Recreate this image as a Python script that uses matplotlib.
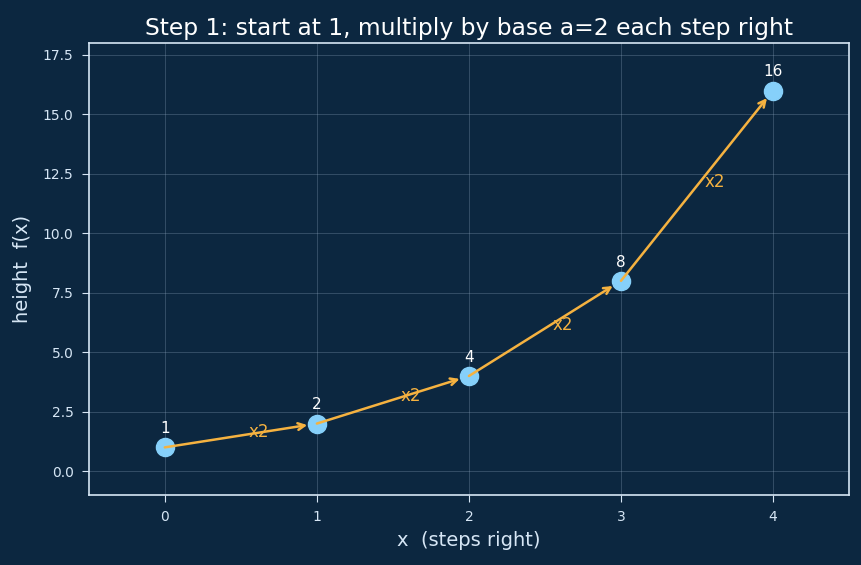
import matplotlib
matplotlib.use("Agg")
import matplotlib.pyplot as plt

xs = [0, 1, 2, 3, 4]
ys = [1, 2, 4, 8, 16]
point_labels = ["1", "2", "4", "8", "16"]
step_label = "x2"
title = "Step 1: start at 1, multiply by base a=2 each step right"

bg = "#0c2740"
fg = "#d6e6f5"
orange = "#f5b240"
blue = "#86d0fa"

fig, ax = plt.subplots(figsize=(8.62, 5.65), dpi=100)
fig.patch.set_facecolor(bg)
ax.set_facecolor(bg)
fig.subplots_adjust(left=0.103, right=0.985, top=0.924, bottom=0.124)

ax.scatter(xs, ys, s=170, color=blue, zorder=3)
for i in range(len(xs) - 1):
    ax.annotate("", xy=(xs[i + 1], ys[i + 1]), xytext=(xs[i], ys[i]),
                arrowprops=dict(arrowstyle="->", color=orange, lw=1.8,
                                shrinkA=0, shrinkB=7, mutation_scale=12),
                zorder=4)
    mx = (xs[i] + xs[i + 1]) / 2
    my = (ys[i] + ys[i + 1]) / 2
    ax.text(mx + 0.12, my + 0.15, step_label, color=orange, fontsize=12,
            ha="center", va="center", zorder=5)
for x, y, lab in zip(xs, ys, point_labels):
    ax.annotate(lab, (x, y), textcoords="offset points", xytext=(0, 8),
                ha="center", va="bottom", color="white", fontsize=11, zorder=5)

ax.set_xlim(-0.5, 4.5)
ax.set_ylim(-1, 18)
ax.set_xticks(xs)
ax.set_yticks([0, 2.5, 5, 7.5, 10, 12.5, 15, 17.5])
ax.grid(True, color="#8fa8c0", alpha=0.3, lw=0.7)
ax.set_axisbelow(True)
for s in ax.spines.values():
    s.set_color(fg)
    s.set_linewidth(1.2)
ax.tick_params(colors=fg, labelsize=10, length=5, pad=6)
ax.set_title(title, color="white", fontsize=16.8, pad=6)
ax.set_xlabel("x  (steps right)", color=fg, fontsize=14, labelpad=5)
ax.set_ylabel("height  f(x)", color=fg, fontsize=14, labelpad=8)

fig.savefig("out.png", dpi=100, facecolor=bg)
